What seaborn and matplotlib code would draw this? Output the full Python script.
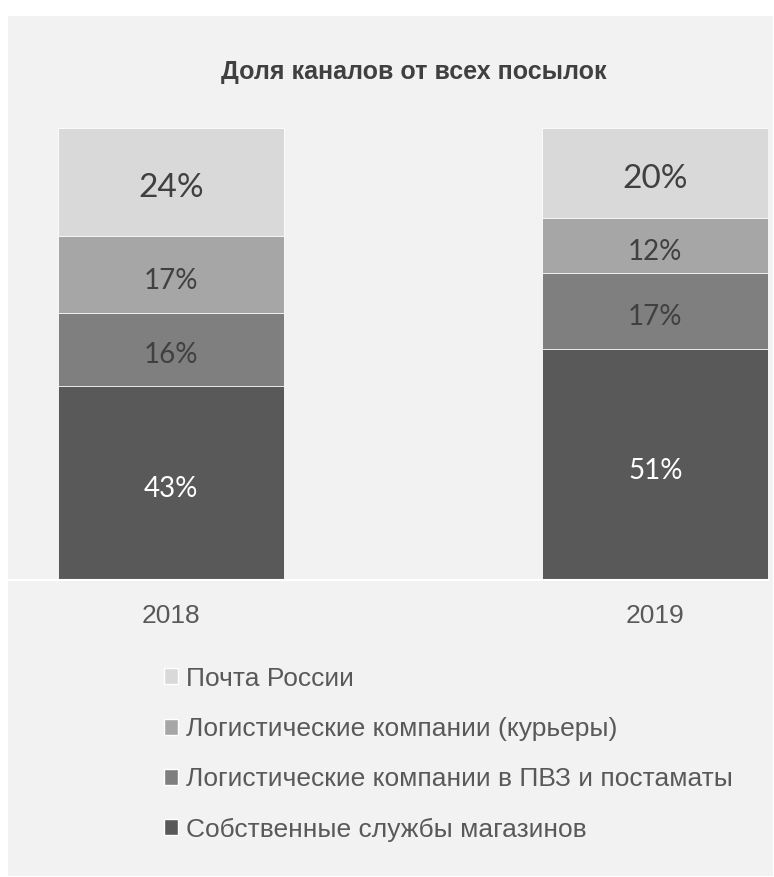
import numpy as np
import pandas as pd
import matplotlib.pyplot as plt
import matplotlib.transforms as mtransforms
from matplotlib.patches import Rectangle
import seaborn as sns

years = ['2018', '2019']
channels = ['Собственные службы магазинов',
            'Логистические компании в ПВЗ и постаматы',
            'Логистические компании (курьеры)',
            'Почта России']
shares = {
    'Собственные службы магазинов': [43, 51],
    'Логистические компании в ПВЗ и постаматы': [16, 17],
    'Логистические компании (курьеры)': [17, 12],
    'Почта России': [24, 20],
}
colors = ['#595959', '#7f7f7f', '#a6a6a6', '#d9d9d9']
label_colors = ['white', '#404040', '#404040', '#404040']
label_sizes = [20, 20, 20, 24]

sns.set_style('white')
plt.rcParams['font.family'] = ['Liberation Sans', 'DejaVu Sans']

W, H = 774, 877
fig = plt.figure(figsize=(W / 100, H / 100), dpi=100, facecolor='white')
fig.patches.append(Rectangle((8 / W, 1 - 876 / H), 765 / W, 860 / H,
                             transform=fig.transFigure, facecolor='#f2f2f2',
                             edgecolor='none', zorder=-10))

ax = fig.add_axes([8 / W, 1 - 580 / H, 760 / W, 452 / H])
ax.set_facecolor('none')

# cumulative stacks, tallest first so the lower ones sit on top
vals = np.array([shares[c] for c in channels], dtype=float)
cum = np.cumsum(vals, axis=0)
for i in range(len(channels) - 1, -1, -1):
    df = pd.DataFrame({'year': years, 'value': cum[i]})
    sns.barplot(data=df, x='year', y='value', color=colors[i], width=0.467,
                saturation=1, edgecolor='white', linewidth=0.6, ax=ax)

shift = mtransforms.offset_copy(ax.transData, fig=fig, x=0, y=-6, units='dots')
for i in range(len(channels)):
    for j in range(len(years)):
        mid = cum[i, j] - vals[i, j] / 2
        ax.text(j, mid, f'{int(vals[i, j])}%', ha='center', va='center',
                fontsize=label_sizes[i], color=label_colors[i], family='Lato',
                transform=shift)

ax.set_xlim(-0.337, 1.233)
ax.set_ylim(0, 100)
ax.set_xlabel('')
ax.set_ylabel('')
ax.set_yticks([])
sns.despine(ax=ax, left=True)
ax.spines['bottom'].set_color('white')
ax.spines['bottom'].set_linewidth(1.5)
ax.tick_params(axis='x', length=0, pad=17, labelsize=19, labelcolor='#595959')

fig.text(414 / W, 1 - 72 / H, 'Доля каналов от всех посылок', ha='center',
         va='center', fontsize=18, fontweight='bold', color='#404040')

handles = [Rectangle((0, 0), 1, 1, facecolor=colors[i]) for i in range(len(channels))][::-1]
leg = fig.legend(handles, channels[::-1], loc='upper left',
                 bbox_to_anchor=(153 / W, 1 - 656 / H), frameon=False,
                 fontsize=19, handlelength=0.55, handleheight=0.55,
                 handletextpad=0.3, labelspacing=1.0, borderaxespad=0)
for t in leg.get_texts():
    t.set_color('#595959')

fig.savefig('out.png', dpi=100, facecolor='white')
